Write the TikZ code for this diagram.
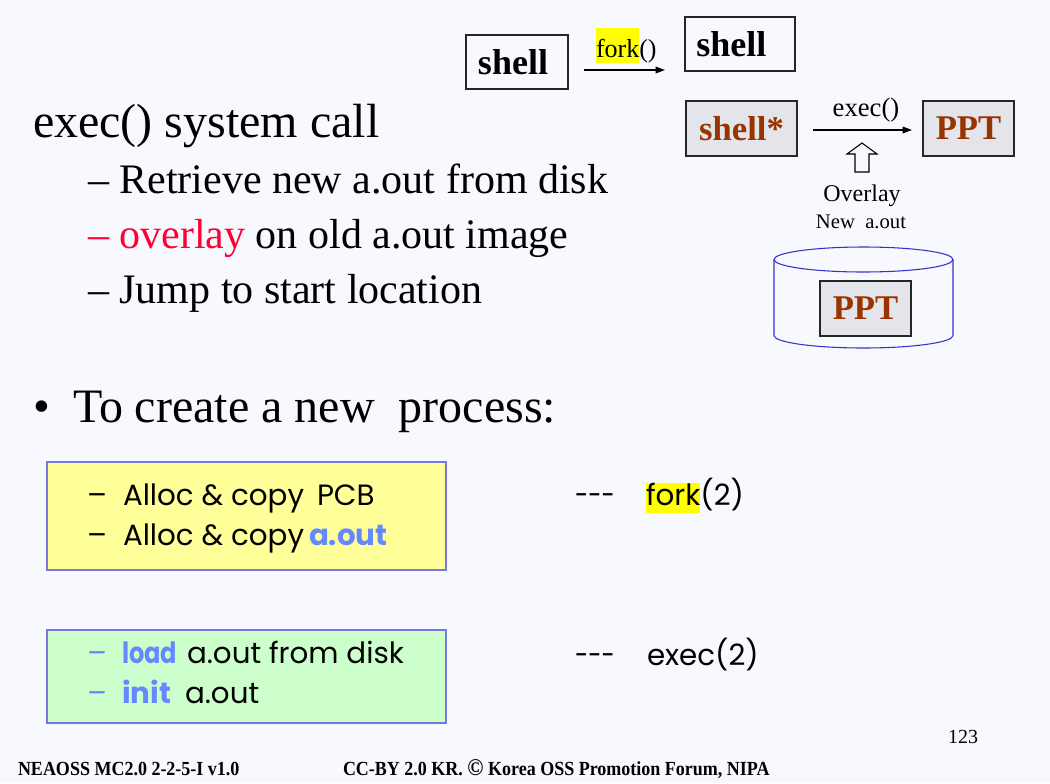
\documentclass[tikz,border=0pt]{standalone}
\usepackage{fontspec}
\setmainfont{Liberation Serif}
\newfontfamily\comic{Poppins}
\newfontfamily\comicn[FakeStretch=0.82]{Poppins}
\newfontfamily\footfont[FakeStretch=0.9]{Liberation Serif}
\usetikzlibrary{arrows.meta}
\definecolor{bg}{HTML}{F8F9FF}
\definecolor{brownt}{HTML}{993300}
\definecolor{grayf}{HTML}{E4E5EA}
\definecolor{yel}{HTML}{FFFF99}
\definecolor{grn}{HTML}{CCFFCC}
\definecolor{bord}{HTML}{7777DD}
\definecolor{blu}{HTML}{6688FF}
\definecolor{redt}{HTML}{FF0033}
\definecolor{hl}{HTML}{FFFF00}
\definecolor{diskc}{HTML}{3333CC}
\begin{document}
\begin{tikzpicture}[x=0.75pt,y=-0.75pt,
  txt/.style={inner sep=0pt, outer sep=0pt, anchor=base west},
  ctxt/.style={inner sep=0pt, outer sep=0pt, anchor=base},
  big/.style={font=\fontsize{36}{43}\selectfont},
  sub/.style={font=\fontsize{31.5}{38}\selectfont},
  wbox/.style={draw=black!85, line width=0.9pt, fill=bg, inner sep=0pt, font=\fontsize{27}{30}\selectfont\bfseries},
  gbox/.style={draw=black!85, line width=0.9pt, fill=grayf, inner sep=0pt, text=brownt, font=\fontsize{26}{30}\selectfont\bfseries},
  arr/.style={-{Triangle[length=7pt,width=5pt]}, line width=0.9pt},
  comictxt/.style={inner sep=0pt, outer sep=0pt, anchor=base west, font=\comic\fontsize{22}{26}\selectfont},
  comicblue/.style={comictxt, text=blu, font=\comic\bfseries\fontsize{22}{26}\selectfont},
  comicnarrow/.style={comictxt, text=blu, font=\comicn\bfseries\fontsize{22}{26}\selectfont},
  panel/.style={draw=bord, line width=0.9pt, inner sep=0pt},
  foot/.style={inner sep=0pt, outer sep=0pt, anchor=base west, font=\footfont\bfseries\fontsize{15}{17}\selectfont},
]
\fill[bg] (0,0) rectangle (1050,783);
\useasboundingbox (0,0) rectangle (1050,783);

% ---- main text ----
\node[txt,big] (title) at (33,137) {exec() system call};
\node[txt,sub] (s1) at (88,193) {– Retrieve new a.out from disk};
\node[txt,sub] (s2) at (88,248) {\textcolor{redt}{– overlay} on old a.out image};
\node[txt,sub] (s3) at (88,303) {– Jump to start location};
\node[txt,big] (bul) at (33,422) {•};
\node[txt,big] (b1) at (73,422) {To create a new\ \ process:};

% ---- top right diagram ----
\node[wbox, minimum width=76.5pt, minimum height=40.5pt] (shA) at (517,62) {shell\kern6pt};
\node[wbox, minimum width=82.5pt, minimum height=40.5pt] (shB) at (740,44) {shell\kern13pt};
\coordinate (f1) at (584,70);
\coordinate (f2) at (665,70);
\draw[arr] (f1) -- (f2);
\node[txt, font=\fontsize{19.5}{24}\selectfont] (forkl) at (596,57)
  {{\fboxsep=0pt\colorbox{hl}{\vrule height 21.5pt depth 4.5pt width 0pt fork}}()};

\node[gbox, minimum width=83.25pt, minimum height=41.25pt] (shS) at (741.5,128.5) {shell*};
\node[gbox, minimum width=68.25pt, minimum height=41.25pt] (pptA) at (968.5,128.5) {PPT};
\coordinate (e1) at (813,130);
\coordinate (e2) at (912,130);
\draw[arr] (e1) -- (e2);
\node[ctxt, font=\fontsize{20}{24}\selectfont] (execl) at (866,116) {exec()};

\draw[line width=0.8pt, fill=bg] (862,143) -- (877,154) -- (869,154) -- (869,172)
  -- (855,172) -- (855,154) -- (847,154) -- cycle;
\node[ctxt, font=\fontsize{18}{21}\selectfont] (ovl) at (862,201) {Overlay};
\node[ctxt, font=\fontsize{15.5}{19}\selectfont] (newa) at (861,228) {New\ \ a.out};

% disk
\draw[diskc, line width=0.8pt, fill=bg] (774,259.5) -- (774,335.5)
  arc[start angle=180, end angle=360, x radius=67.125pt, y radius=9.375pt]
  -- (953,259.5);
\draw[diskc, line width=0.8pt] (863.5,259.5) ellipse [x radius=67.125pt, y radius=9.375pt];
\node[gbox, minimum width=68.25pt, minimum height=41.25pt] (pptB) at (865.5,308.5) {PPT};

% ---- bottom panels ----
\node[panel, fill=yel, minimum width=299.25pt, minimum height=81pt] (ybox) at (246.5,516) {};
\node[comictxt] (y1d) at (87,505) {–};
\node[comictxt] (y1a) at (123,505) {Alloc \& copy};
\node[comictxt] (y1b) at (317,505) {PCB};
\node[comictxt] (y2d) at (87,545) {–};
\node[comictxt] (y2a) at (123,545) {Alloc \& copy};
\node[comicblue] (y2b) at (309,545) {a.out};

\node[panel, fill=grn, minimum width=299.25pt, minimum height=69.75pt] (gpanel) at (246.5,676.5) {};
\node[comictxt, text=blu] (g1d) at (87,663) {–};
\node[comicnarrow] (g1a) at (122,663) {load};
\node[comictxt] (g1b) at (187,663) {a.out from disk};
\node[comictxt, text=blu] (g2d) at (87,703) {–};
\node[comicblue] (g2a) at (122,703) {init};
\node[comictxt] (g2b) at (185,703) {a.out};

\node[comictxt, font=\comicn\fontsize{22}{26}\selectfont] (r1d) at (575,505) {-{}-{}-};
\node[comictxt] (r1) at (646,505) {{\fboxsep=0pt\colorbox{hl}{\vrule height 16pt depth 6pt width 0pt fork}}(2)};
\node[comictxt, font=\comicn\fontsize{22}{26}\selectfont] (r2d) at (575,665) {-{}-{}-};
\node[comictxt] (r2) at (647,665) {exec(2)};

% ---- footer ----
\node[txt, font=\fontsize{15}{18}\selectfont] (pg) at (948,743) {123};
\node[foot] (ft1) at (18,775) {NEAOSS MC2.0 2-2-5-I v1.0};
\node[foot] (ft2) at (343,775) {CC-BY 2.0 KR. {\fontsize{18}{18}\selectfont ©} Korea OSS Promotion Forum, NIPA};
\end{tikzpicture}
\end{document}
